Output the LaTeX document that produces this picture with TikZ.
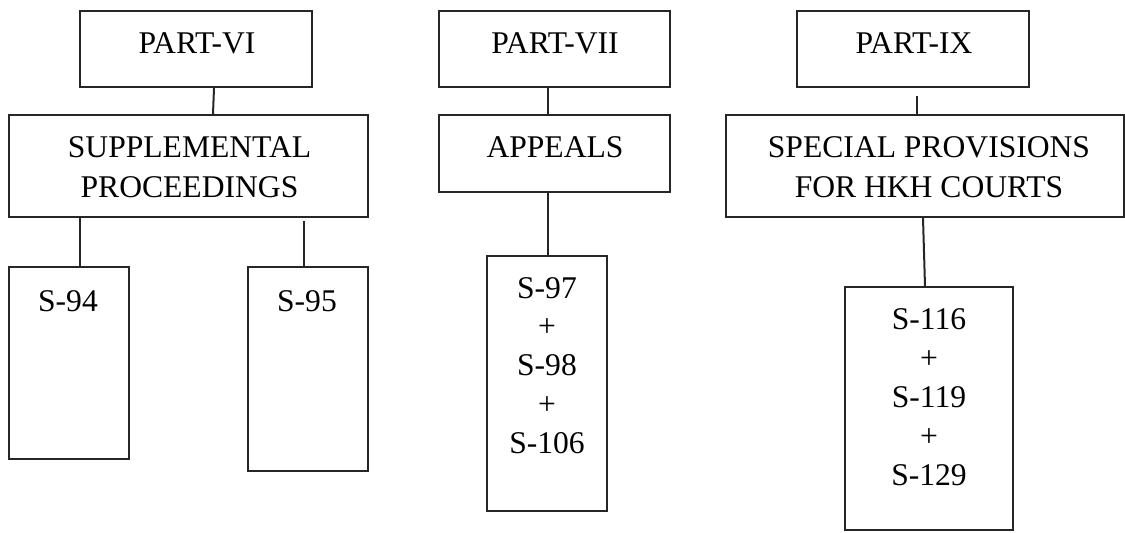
\documentclass[tikz,border=0pt]{standalone}
\usepackage{fontspec}
\setmainfont{Liberation Serif}
\usetikzlibrary{fit}
\newcommand{\mylines}[2]{{\fontsize{15.8}{#1}\selectfont\renewcommand{\arraystretch}{1}\begin{tabular}[t]{@{}c@{}}#2\end{tabular}}}
\begin{document}
\begin{tikzpicture}[x=0.5pt,y=-0.5pt,
  box/.style={draw=black!85, line width=1pt, inner sep=0pt, fit={#1}},
  txt/.style={inner sep=0pt, anchor=base, font=\fontsize{15.8}{20}\selectfont},
  link/.style={draw=black!85, line width=1pt}]
\useasboundingbox (0,0) rectangle (1125,532);
% boxes
\node[box={(80,11) (312,87)}] (p6) {};
\node[box={(9,115) (368,217)}] (sp) {};
\node[box={(9,267) (129,459)}] (s94) {};
\node[box={(248,267) (368,471)}] (s95) {};
\node[box={(439,11) (670,87)}] (p7) {};
\node[box={(439,115) (670,192)}] (ap) {};
\node[box={(487,256) (607,511)}] (s97) {};
\node[box={(797,11) (1029,87)}] (p9) {};
\node[box={(726,115) (1124,217)}] (spc) {};
\node[box={(845,287) (1013,530)}] (s116) {};
% texts
\node[txt] (tp6) at (197,53) {PART-VI};
\node[txt] (tsp) at (189.5,157) {\mylines{20pt}{SUPPLEMENTAL\\PROCEEDINGS}};
\node[txt] (ts94) at (68,311) {S-94};
\node[txt] (ts95) at (307,311) {S-95};
\node[txt] (tp7) at (555,53) {PART-VII};
\node[txt] (tap) at (555,157) {APPEALS};
\node[txt] (ts97) at (547,298) {\mylines{19.4pt}{S-97\\+\\S-98\\+\\S-106}};
\node[txt] (tp9) at (914,53) {PART-IX};
\node[txt] (tspc) at (929,157) {\mylines{20pt}{SPECIAL PROVISIONS\\FOR HKH COURTS}};
\node[txt] (ts116) at (929,329) {\mylines{19.5pt}{S-116\\+\\S-119\\+\\S-129}};
% connectors
\draw[link] ([xshift=9pt]p6.south) -- ([xshift=12.25pt]sp.north);
\draw[link] ([xshift=-54.25pt]sp.south) -- ([xshift=5.5pt]s94.north);
\draw[link] ([xshift=57.75pt,yshift=-1.5pt]sp.south) -- ([xshift=-2pt]s95.north);
\draw[link] ([xshift=-3.25pt]p7.south) -- ([xshift=-3.25pt]ap.north);
\draw[link] ([xshift=-3.25pt]ap.south) -- ([xshift=0.5pt]s97.north);
\draw[link] ([xshift=2pt,yshift=-4pt]p9.south) -- ([xshift=-4pt]spc.north);
\draw[link] ([xshift=-1pt]spc.south) -- ([xshift=-2pt]s116.north);
\end{tikzpicture}
\end{document}
